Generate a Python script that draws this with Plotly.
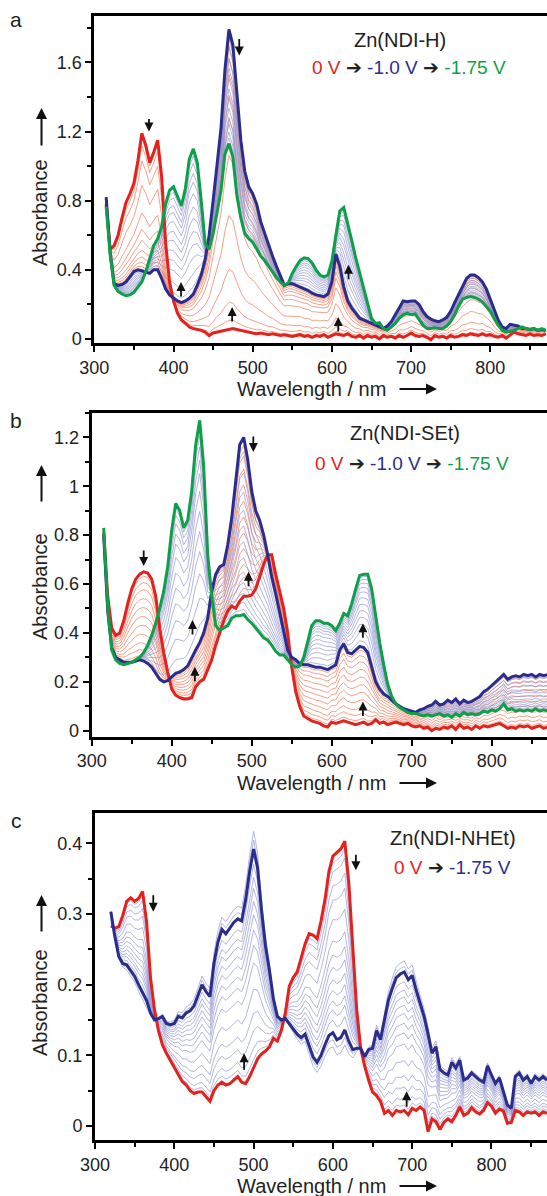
import plotly.graph_objects as go

# ---------------- data ----------------
wl_a = list(range(315, 875, 5))
a_red = [0.78,0.52,0.54,0.60,0.70,0.79,0.84,0.90,1.03,1.19,1.12,1.02,1.08,1.15,0.94,0.56,0.33,0.22,0.15,0.11,
         0.09,0.07,0.06,0.055,0.05,0.04,0.02,0.035,0.04,0.045,0.05,0.055,0.06,0.055,0.05,0.045,0.04,0.035,0.03,0.035,
         0.03,0.025,0.03,0.025,0.02,0.025,0.02,0.015,0.02,0.025,0.015,0.02,0.01,0.02,0.015,0.025,0.01,0.02,0.03,0.025,
         0.02,0.03,0.015,0.01,0.02,0.005,0.02,0.01,0.015,0.0,0.02,0.01,0.015,0.005,0.02,0.01,0.02,0.035,0.02,0.015,
         0.02,0.01,-0.005,0.02,0.01,0.015,0.005,0.02,0.01,0.015,0.025,0.02,0.03,0.025,0.02,0.03,0.02,0.025,0.015,0.01,
         0.02,0.005,0.02,0.04,0.03,0.025,0.02,0.03,0.02,0.025,0.02,0.03]
a_blue = [0.82,0.50,0.32,0.31,0.315,0.33,0.36,0.39,0.40,0.395,0.385,0.38,0.40,0.40,0.35,0.29,0.255,0.235,0.22,0.21,
          0.22,0.235,0.26,0.31,0.37,0.46,0.60,0.80,1.03,1.22,1.56,1.79,1.70,1.40,1.15,0.97,0.88,0.84,0.78,0.68,
          0.61,0.55,0.48,0.42,0.36,0.31,0.32,0.32,0.31,0.30,0.29,0.28,0.265,0.255,0.25,0.245,0.26,0.33,0.49,0.42,
          0.30,0.22,0.18,0.15,0.12,0.11,0.10,0.09,0.08,0.07,0.06,0.075,0.10,0.14,0.18,0.22,0.215,0.22,0.22,0.20,
          0.16,0.13,0.115,0.105,0.10,0.11,0.125,0.16,0.21,0.26,0.31,0.35,0.37,0.37,0.355,0.33,0.29,0.23,0.16,0.11,
          0.07,0.06,0.085,0.08,0.075,0.06,0.06,0.055,0.06,0.05,0.055,0.05]
a_green = [0.765,0.49,0.31,0.275,0.26,0.25,0.255,0.27,0.30,0.33,0.39,0.47,0.54,0.58,0.65,0.78,0.86,0.88,0.83,0.77,
           0.87,1.04,1.10,1.02,0.80,0.55,0.52,0.61,0.73,0.86,1.07,1.13,1.05,0.83,0.70,0.61,0.58,0.56,0.52,0.48,
           0.455,0.42,0.385,0.355,0.33,0.31,0.325,0.38,0.42,0.455,0.47,0.465,0.44,0.40,0.37,0.36,0.37,0.45,0.60,0.74,
           0.76,0.67,0.57,0.47,0.38,0.29,0.20,0.12,0.09,0.095,0.06,0.05,0.07,0.09,0.12,0.14,0.15,0.14,0.145,0.11,
           0.08,0.06,0.06,0.065,0.06,0.06,0.075,0.10,0.14,0.19,0.23,0.24,0.245,0.24,0.23,0.215,0.19,0.16,0.12,0.08,
           0.05,0.04,0.045,0.05,0.06,0.07,0.06,0.055,0.06,0.05,0.06,0.05]
# fractions of the intermediate spectra (read from peak heights)
a_frac_rb = [0.03, 0.09, 0.2, 0.38, 0.58, 0.7, 0.78, 0.85, 0.9, 0.94, 0.97]
a_frac_bg = [0.05, 0.14, 0.25, 0.34, 0.43, 0.52, 0.6, 0.69, 0.77, 0.83, 0.9, 0.95]

wl_b = list(range(315, 875, 5))
b_red = [0.81,0.55,0.42,0.39,0.40,0.45,0.52,0.58,0.62,0.64,0.65,0.645,0.62,0.55,0.42,0.32,0.24,0.17,0.145,0.135,
         0.13,0.13,0.135,0.18,0.20,0.21,0.25,0.29,0.35,0.40,0.45,0.49,0.51,0.50,0.53,0.55,0.55,0.555,0.58,0.63,
         0.68,0.72,0.72,0.64,0.57,0.50,0.40,0.26,0.16,0.10,0.06,0.05,0.04,0.035,0.03,0.02,0.015,0.035,0.03,0.035,
         0.04,0.035,0.03,0.025,0.03,0.035,0.025,0.03,0.045,0.03,0.035,0.025,0.03,0.035,0.03,0.025,0.03,0.02,0.015,0.02,
         0.01,0.015,0.0,0.01,0.005,0.015,0.01,0.02,0.005,0.025,0.01,0.015,0.005,0.02,0.01,0.02,0.015,0.02,0.025,0.03,
         0.02,0.01,0.015,0.01,0.02,0.015,0.02,0.01,0.015,0.02,0.01,0.015]
b_blue = [0.80,0.49,0.34,0.30,0.29,0.28,0.28,0.28,0.285,0.29,0.285,0.275,0.26,0.235,0.21,0.20,0.205,0.22,0.235,0.24,
          0.25,0.265,0.30,0.33,0.36,0.40,0.46,0.57,0.64,0.67,0.68,0.76,0.87,1.02,1.17,1.20,1.11,0.98,0.90,0.86,
          0.80,0.72,0.63,0.56,0.48,0.41,0.33,0.30,0.29,0.275,0.27,0.27,0.265,0.26,0.26,0.255,0.25,0.26,0.27,0.33,
          0.355,0.32,0.315,0.33,0.345,0.34,0.32,0.26,0.20,0.17,0.15,0.14,0.125,0.11,0.10,0.09,0.085,0.08,0.075,0.085,
          0.09,0.10,0.105,0.12,0.105,0.11,0.125,0.115,0.13,0.11,0.125,0.115,0.12,0.13,0.14,0.16,0.17,0.185,0.20,0.215,
          0.23,0.21,0.22,0.225,0.22,0.23,0.225,0.23,0.22,0.23,0.225,0.23]
b_green = [0.83,0.51,0.33,0.29,0.275,0.27,0.275,0.28,0.29,0.30,0.32,0.35,0.39,0.44,0.50,0.57,0.67,0.82,0.93,0.90,
           0.83,0.86,0.98,1.17,1.27,1.08,0.72,0.55,0.43,0.41,0.42,0.43,0.46,0.47,0.47,0.475,0.455,0.44,0.42,0.40,
           0.38,0.37,0.35,0.325,0.31,0.31,0.29,0.27,0.26,0.265,0.30,0.36,0.43,0.45,0.45,0.44,0.44,0.43,0.41,0.44,
           0.48,0.47,0.52,0.58,0.635,0.64,0.64,0.58,0.46,0.36,0.27,0.19,0.14,0.11,0.095,0.085,0.075,0.07,0.07,0.065,
           0.06,0.065,0.06,0.065,0.07,0.06,0.065,0.055,0.07,0.06,0.075,0.065,0.07,0.065,0.07,0.08,0.075,0.085,0.08,0.09,
           0.11,0.085,0.09,0.08,0.085,0.08,0.085,0.08,0.09,0.08,0.085,0.08]
b_frac_rb = [0.05, 0.12, 0.2, 0.3, 0.4, 0.5, 0.6, 0.7, 0.8, 0.88, 0.95]
b_frac_bg = [0.08, 0.2, 0.31, 0.41, 0.5, 0.59, 0.68, 0.76, 0.82, 0.88, 0.93, 0.97]

wl_c = list(range(320, 875, 5))
c_red = [0.283,0.28,0.282,0.298,0.318,0.323,0.318,0.322,0.332,0.29,0.21,0.165,0.135,0.115,0.103,0.093,0.083,0.072,0.063,0.058,
         0.05,0.046,0.048,0.048,0.042,0.035,0.05,0.058,0.062,0.058,0.06,0.065,0.07,0.062,0.06,0.07,0.082,0.095,0.102,0.106,
         0.112,0.124,0.12,0.135,0.16,0.198,0.21,0.218,0.238,0.258,0.272,0.27,0.265,0.29,0.32,0.36,0.382,0.387,0.392,0.403,
         0.345,0.255,0.165,0.11,0.085,0.065,0.048,0.043,0.035,0.018,0.022,0.015,0.022,0.02,0.022,0.016,0.025,0.022,0.027,0.022,
         -0.008,0.01,0.006,-0.005,0.005,0.01,0.006,0.015,0.027,0.015,0.018,0.026,0.02,0.017,0.022,0.033,0.028,0.018,0.024,0.021,
         0.004,0.005,0.022,0.02,0.015,0.02,0.018,0.02,0.015,0.02,0.018]
c_blue = [0.303,0.268,0.24,0.23,0.228,0.22,0.212,0.2,0.19,0.178,0.16,0.15,0.152,0.155,0.145,0.143,0.145,0.155,0.153,0.16,
          0.163,0.17,0.185,0.2,0.19,0.183,0.23,0.26,0.278,0.272,0.28,0.288,0.293,0.29,0.32,0.36,0.392,0.365,0.305,0.255,
          0.22,0.18,0.155,0.15,0.152,0.145,0.138,0.13,0.125,0.13,0.114,0.098,0.09,0.1,0.115,0.128,0.132,0.122,0.125,0.136,
          0.12,0.108,0.11,0.11,0.098,0.108,0.11,0.135,0.122,0.15,0.178,0.195,0.21,0.215,0.218,0.207,0.213,0.192,0.175,0.155,
          0.13,0.103,0.112,0.08,0.075,0.072,0.09,0.082,0.093,0.065,0.068,0.075,0.07,0.065,0.062,0.085,0.072,0.06,0.068,0.05,
          0.03,0.025,0.07,0.075,0.065,0.07,0.06,0.07,0.065,0.07,0.065]
c_frac_rb = [0.04, 0.09, 0.17, 0.25, 0.36, 0.48, 0.56, 0.63, 0.7, 0.76, 0.82, 0.87, 0.93, 1.04, 1.08]

x_ticks = [300, 400, 500, 600, 700, 800]
x_minor = [350, 450, 550, 650, 750, 850]
ya_ticks = [0, 0.4, 0.8, 1.2, 1.6]
ya_labels = ["0", "0.4", "0.8", "1.2", "1.6"]
yb_ticks = [0, 0.2, 0.4, 0.6, 0.8, 1.0, 1.2]
yb_labels = ["0", "0.2", "0.4", "0.6", "0.8", "1", "1.2"]
yc_ticks = [0, 0.1, 0.2, 0.3, 0.4]
yc_labels = ["0", "0.1", "0.2", "0.3", "0.4"]

# ---------------- style ----------------
W, H = 547, 1196
RED = "#E3221E"
NAVY = "#2A2D8C"
GREEN = "#0E9F48"
SALMON = "rgba(240,130,100,0.75)"
LAV = "rgba(140,145,205,0.65)"
FONT = "Liberation Sans, Arial, sans-serif"

def px(x):
    return x / W

def py(y):
    return 1 - y / H

def mix(a, b, f):
    return [(1 - f) * u + f * v for u, v in zip(a, b)]

fig = go.Figure()

def add_panel(idx, wl, red, blue, green, frac_rb, frac_bg, thin_rb_color, thin_bg_color):
    xa = "x" if idx == 1 else f"x{idx}"
    ya = "y" if idx == 1 else f"y{idx}"
    for f in frac_rb:
        fig.add_trace(go.Scatter(x=wl, y=mix(red, blue, f), mode="lines",
                                 line=dict(color=thin_rb_color, width=1), xaxis=xa, yaxis=ya,
                                 hoverinfo="skip"))
    if green is not None:
        for f in frac_bg:
            fig.add_trace(go.Scatter(x=wl, y=mix(blue, green, f), mode="lines",
                                     line=dict(color=thin_bg_color, width=1), xaxis=xa, yaxis=ya,
                                     hoverinfo="skip"))
    fig.add_trace(go.Scatter(x=wl, y=red, mode="lines", line=dict(color=RED, width=3),
                             xaxis=xa, yaxis=ya))
    fig.add_trace(go.Scatter(x=wl, y=blue, mode="lines", line=dict(color=NAVY, width=3),
                             xaxis=xa, yaxis=ya))
    if green is not None:
        fig.add_trace(go.Scatter(x=wl, y=green, mode="lines", line=dict(color=GREEN, width=3),
                                 xaxis=xa, yaxis=ya))

add_panel(1, wl_a, a_red, a_blue, a_green, a_frac_rb, a_frac_bg, SALMON, LAV)
add_panel(2, wl_b, b_red, b_blue, b_green, b_frac_rb, b_frac_bg, SALMON, LAV)
add_panel(3, wl_c, c_red, c_blue, None, c_frac_rb, [], LAV, LAV)

# panel geometry (pixels): left, top, bottom, y-range
panels = {
    1: dict(left=94.3, top=16, bottom=343.3, xr=[300, 871.6], yr=[-0.0249, 1.868],
            tv=ya_ticks, tt=ya_labels, minor=0.2),
    2: dict(left=91.7, top=412.7, bottom=736.7, xr=[300, 869.1], yr=[-0.0245, 1.301],
            tv=yb_ticks, tt=yb_labels, minor=0.1),
    3: dict(left=95.0, top=812.7, bottom=1140.0, xr=[300, 870.0], yr=[-0.0198, 0.4433],
            tv=yc_ticks, tt=yc_labels, minor=0.05),
}

layout = dict(width=W, height=H, margin=dict(l=0, r=0, t=0, b=0, pad=0),
              paper_bgcolor="white", plot_bgcolor="white", showlegend=False,
              font=dict(family=FONT, color="#222", size=16))

for i, p in panels.items():
    xk = "xaxis" if i == 1 else f"xaxis{i}"
    yk = "yaxis" if i == 1 else f"yaxis{i}"
    ya = "y" if i == 1 else f"y{i}"
    xa = "x" if i == 1 else f"x{i}"
    layout[xk] = dict(domain=[px(p["left"]), 1], range=p["xr"], anchor=ya, automargin=False,
                      showgrid=False, zeroline=False, showline=True, linecolor="black",
                      linewidth=3, mirror=True, ticks="outside", ticklen=6, tickwidth=2,
                      tickcolor="black", tickvals=x_ticks, ticktext=[str(t) for t in x_ticks],
                      tickfont=dict(size=18, family=FONT, color="#222"),
                      minor=dict(tickvals=x_minor, ticks="outside", ticklen=4, tickwidth=2,
                                 tickcolor="black"))
    layout[yk] = dict(domain=[py(p["bottom"]), py(p["top"])], range=p["yr"], anchor=xa,
                      automargin=False,
                      showgrid=False, zeroline=False, showline=True, linecolor="black",
                      linewidth=3, mirror=False, ticks="outside", ticklen=6, tickwidth=2,
                      tickcolor="black", tickvals=p["tv"], ticktext=p["tt"],
                      tickfont=dict(size=18, family=FONT, color="#222"),
                      minor=dict(dtick=p["minor"], tick0=0, ticks="outside", ticklen=4,
                                 tickwidth=2, tickcolor="black"))

fig.update_layout(**layout)

ann = []

def txt(x, y, s, size=17, color="#222", angle=0, xanchor="center"):
    ann.append(dict(x=px(x), y=py(y), xref="paper", yref="paper", text=s, showarrow=False,
                    font=dict(size=size, color=color, family=FONT), textangle=angle,
                    xanchor=xanchor, yanchor="middle"))

def paper_arrow(x0, y0, x1, y1, width=2):
    # arrow from (x0,y0) tail to (x1,y1) head, in pixels
    ann.append(dict(x=px(x1), y=py(y1), xref="paper", yref="paper", ax=x0 - x1, ay=y0 - y1,
                    axref="pixel", ayref="pixel", text="", showarrow=True, arrowhead=2,
                    arrowsize=1.1, arrowwidth=width, arrowcolor="#111"))

def data_arrow(i, wl, val, down, length=16):
    xa = "x" if i == 1 else f"x{i}"
    ya = "y" if i == 1 else f"y{i}"
    ann.append(dict(x=wl, y=val, xref=xa, yref=ya, ax=0, ay=(-length if down else length),
                    text="", showarrow=True, arrowhead=2, arrowsize=1.0, arrowwidth=1.8,
                    arrowcolor="#111"))

def legend_line(xc, y, parts):
    s = "".join(f'<span style="color:{c}">{t}</span>' for t, c in parts)
    txt(xc, y, s, size=19)

# panel labels and axis titles
for i, (lab, ly, absy, arr, wly) in {
        1: ("a", 20, 213, (147, 108), 389),
        2: ("b", 420, 587, (503, 465), 783),
        3: ("c", 820, 1003, (933, 895), 1186)}.items():
    txt(16, ly, lab, size=21)
    txt(40, absy, "Absorbance", size=20, angle=-90)
    paper_arrow(41.5, arr[0], 41.5, arr[1])
    txt(312, wly, "Wavelength / nm", size=20)
    paper_arrow(398, wly, 437, wly)

ARR = " \u2794 "
txt(400, 40, "Zn(NDI-H)", size=20)
legend_line(409, 68, [("0 V", RED), (ARR, "#222"), ("-1.0 V", NAVY), (ARR, "#222"), ("-1.75 V", GREEN)])
txt(405, 433, "Zn(NDI-SEt)", size=20)
legend_line(412, 463, [("0 V", RED), (ARR, "#222"), ("-1.0 V", NAVY), (ARR, "#222"), ("-1.75 V", GREEN)])
txt(453, 838, "Zn(NDI-NHEt)", size=20)
legend_line(452, 867, [("0 V", RED), (ARR, "#222"), ("-1.75 V", NAVY)])

# data arrows
data_arrow(1, 369, 1.20, True, 14)
data_arrow(1, 483, 1.64, True, 18)
data_arrow(1, 409.5, 0.33, False)
data_arrow(1, 474, 0.185, False)
data_arrow(1, 608, 0.127, False)
data_arrow(1, 621, 0.43, False)

data_arrow(2, 365, 0.674, True, 17)
data_arrow(2, 502, 1.14, True, 17)
data_arrow(2, 426, 0.453, False)
data_arrow(2, 429, 0.262, False)
data_arrow(2, 496, 0.65, False)
data_arrow(2, 639, 0.44, False)
data_arrow(2, 639, 0.119, False)

data_arrow(3, 373.5, 0.303, True, 18)
data_arrow(3, 629, 0.362, True, 17)
data_arrow(3, 488, 0.103, False, 18)
data_arrow(3, 693, 0.049, False, 17)

fig.update_layout(annotations=ann)
fig.write_html("out.html", config={"displayModeBar": False},
               post_script="document.body.style.margin='0';document.body.style.overflow='hidden';")
